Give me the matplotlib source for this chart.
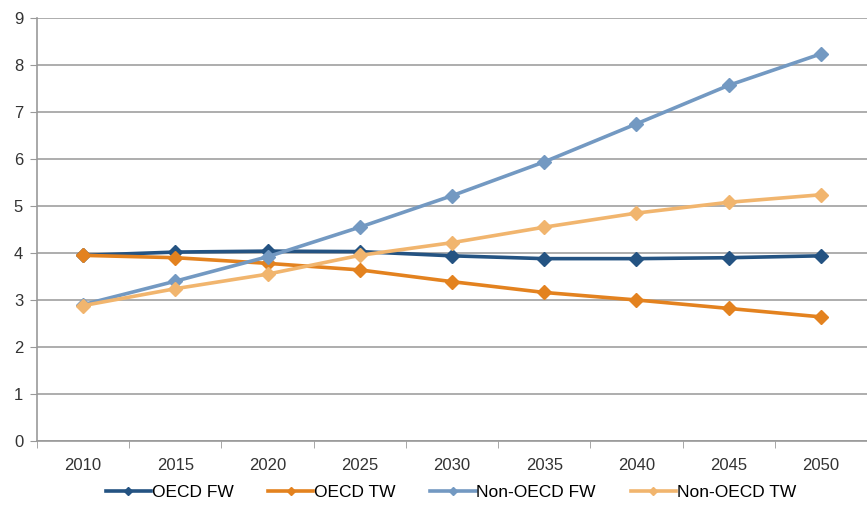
import matplotlib.pyplot as plt
import numpy as np

plt.rcParams['font.family'] = ['Liberation Sans', 'DejaVu Sans']

years = [2010, 2015, 2020, 2025, 2030, 2035, 2040, 2045, 2050]
oecd_fw = [3.95, 4.02, 4.04, 4.03, 3.94, 3.88, 3.88, 3.90, 3.94]
oecd_tw = [3.95, 3.90, 3.78, 3.64, 3.39, 3.16, 3.00, 2.82, 2.64]
non_oecd_fw = [2.90, 3.40, 3.92, 4.55, 5.22, 5.94, 6.75, 7.57, 8.24]
non_oecd_tw = [2.88, 3.24, 3.55, 3.95, 4.22, 4.55, 4.85, 5.08, 5.24]

series = [
    ("OECD FW", oecd_fw, "#245382"),
    ("OECD TW", oecd_tw, "#e3821f"),
    ("Non-OECD FW", non_oecd_fw, "#7399c2"),
    ("Non-OECD TW", non_oecd_tw, "#f1b56e"),
]

fig = plt.figure(figsize=(8.67, 5.05), dpi=100)
ax = fig.add_axes([0.0427, 0.127, 0.9573, 0.837])

x = np.arange(len(years))
for name, vals, col in series:
    ax.plot(x, vals, color=col, lw=2.6, marker='D', ms=7.5, label=name, zorder=3)

ax.set_xlim(-0.5, len(years) - 0.5)
ax.set_ylim(0, 9)
ax.set_yticks(range(0, 10))
ax.set_xticks(x)
ax.set_xticklabels([str(y) for y in years])
ax.set_xticks(np.arange(-0.5, len(years)), minor=True)
ax.tick_params(axis='x', which='major', length=0, pad=12, labelsize=12, colors='#333333')
ax.tick_params(axis='x', which='minor', length=5, color='#999999')
ax.tick_params(axis='y', length=5, color='#999999', labelsize=12, labelcolor='#333333', pad=5)

ax.grid(axis='y', color='#a0a0a0', lw=1.2)
ax.set_axisbelow(True)
for s in ['top', 'right']:
    ax.spines[s].set_visible(False)
for s in ['left', 'bottom']:
    ax.spines[s].set_color('#999999')
    ax.spines[s].set_linewidth(1.2)

handles, labels = ax.get_legend_handles_labels()
leg = fig.legend(handles, labels, loc='center', bbox_to_anchor=(0.52, 0.024), ncol=4,
                 frameon=False, fontsize=12.5, handlelength=2.6, handletextpad=0.05,
                 columnspacing=2.0, markerscale=0.6)

fig.savefig('out.png', dpi=100)
